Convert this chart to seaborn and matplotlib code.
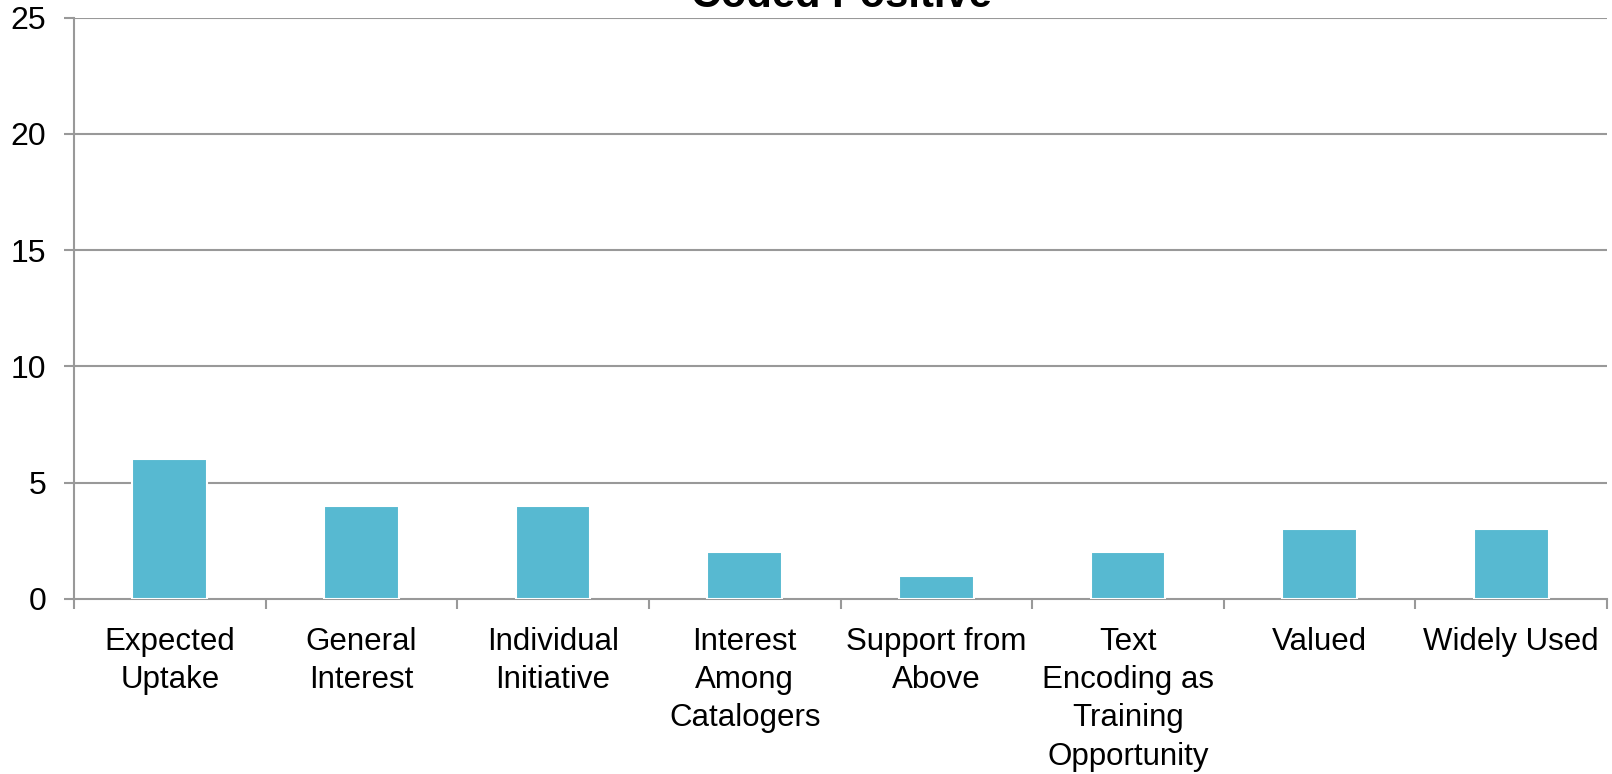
import matplotlib
matplotlib.use("Agg")
import matplotlib.pyplot as plt
import numpy as np
import pandas as pd
import seaborn as sns

categories = [
    "Expected\nUptake",
    "General\nInterest",
    "Individual\nInitiative",
    "Interest\nAmong\nCatalogers",
    "Support from\nAbove",
    "Text\nEncoding as\nTraining\nOpportunity",
    "Valued",
    "Widely Used",
]
counts = [6, 4, 4, 2, 1, 2, 3, 3]
y_ticks = [0, 5, 10, 15, 20, 25]
title = "Coded Positive"

sns.set_style("white")
plt.rcParams["font.family"] = ["Liberation Sans", "DejaVu Sans"]
plt.rcParams["text.color"] = "black"
plt.rcParams["xtick.color"] = "black"
plt.rcParams["ytick.color"] = "black"

df = pd.DataFrame({"category": categories, "count": counts})

fig = plt.figure(figsize=(16.12, 7.74), dpi=100)
ax = fig.add_axes([74 / 1612, 1 - 599 / 774, (1607 - 74) / 1612, (599 - 17.5) / 774])

sns.barplot(data=df, x="category", y="count", color="#57B9D1", saturation=1,
            width=0.39, edgecolor="white", linewidth=1.5, ax=ax, zorder=3)

grid_color = "#999999"
ax.set_ylim(0, 25)
ax.set_xlim(-0.5, len(categories) - 0.5)
ax.set_yticks(y_ticks)
for y in y_ticks[1:]:
    ax.axhline(y, color=grid_color, linewidth=1.5, zorder=1)

for side in ["top", "right"]:
    ax.spines[side].set_visible(False)
for side in ["left", "bottom"]:
    ax.spines[side].set_color(grid_color)
    ax.spines[side].set_linewidth(1.5)

ax.tick_params(axis="y", length=7, width=1.5, color=grid_color, labelcolor="black",
               pad=13, labelsize=23, left=True, direction="out")
ax.tick_params(axis="x", which="major", length=0, pad=20, labelsize=22.5,
               labelcolor="black")
ax.set_xticks(np.arange(-0.5, len(categories)), minor=True)
ax.tick_params(axis="x", which="minor", length=7, width=1.5, color=grid_color,
               bottom=True, direction="out")
for lbl in ax.get_xticklabels():
    lbl.set_linespacing(1.36)
    lbl.set_verticalalignment("top")

ax.set_xlabel("")
ax.set_ylabel("")

fig.text(841 / 1612, 1 - 7 / 774, title, ha="center", va="baseline",
         fontsize=30, fontweight="bold", color="black")

fig.savefig("out.png", dpi=100)
plt.close(fig)
